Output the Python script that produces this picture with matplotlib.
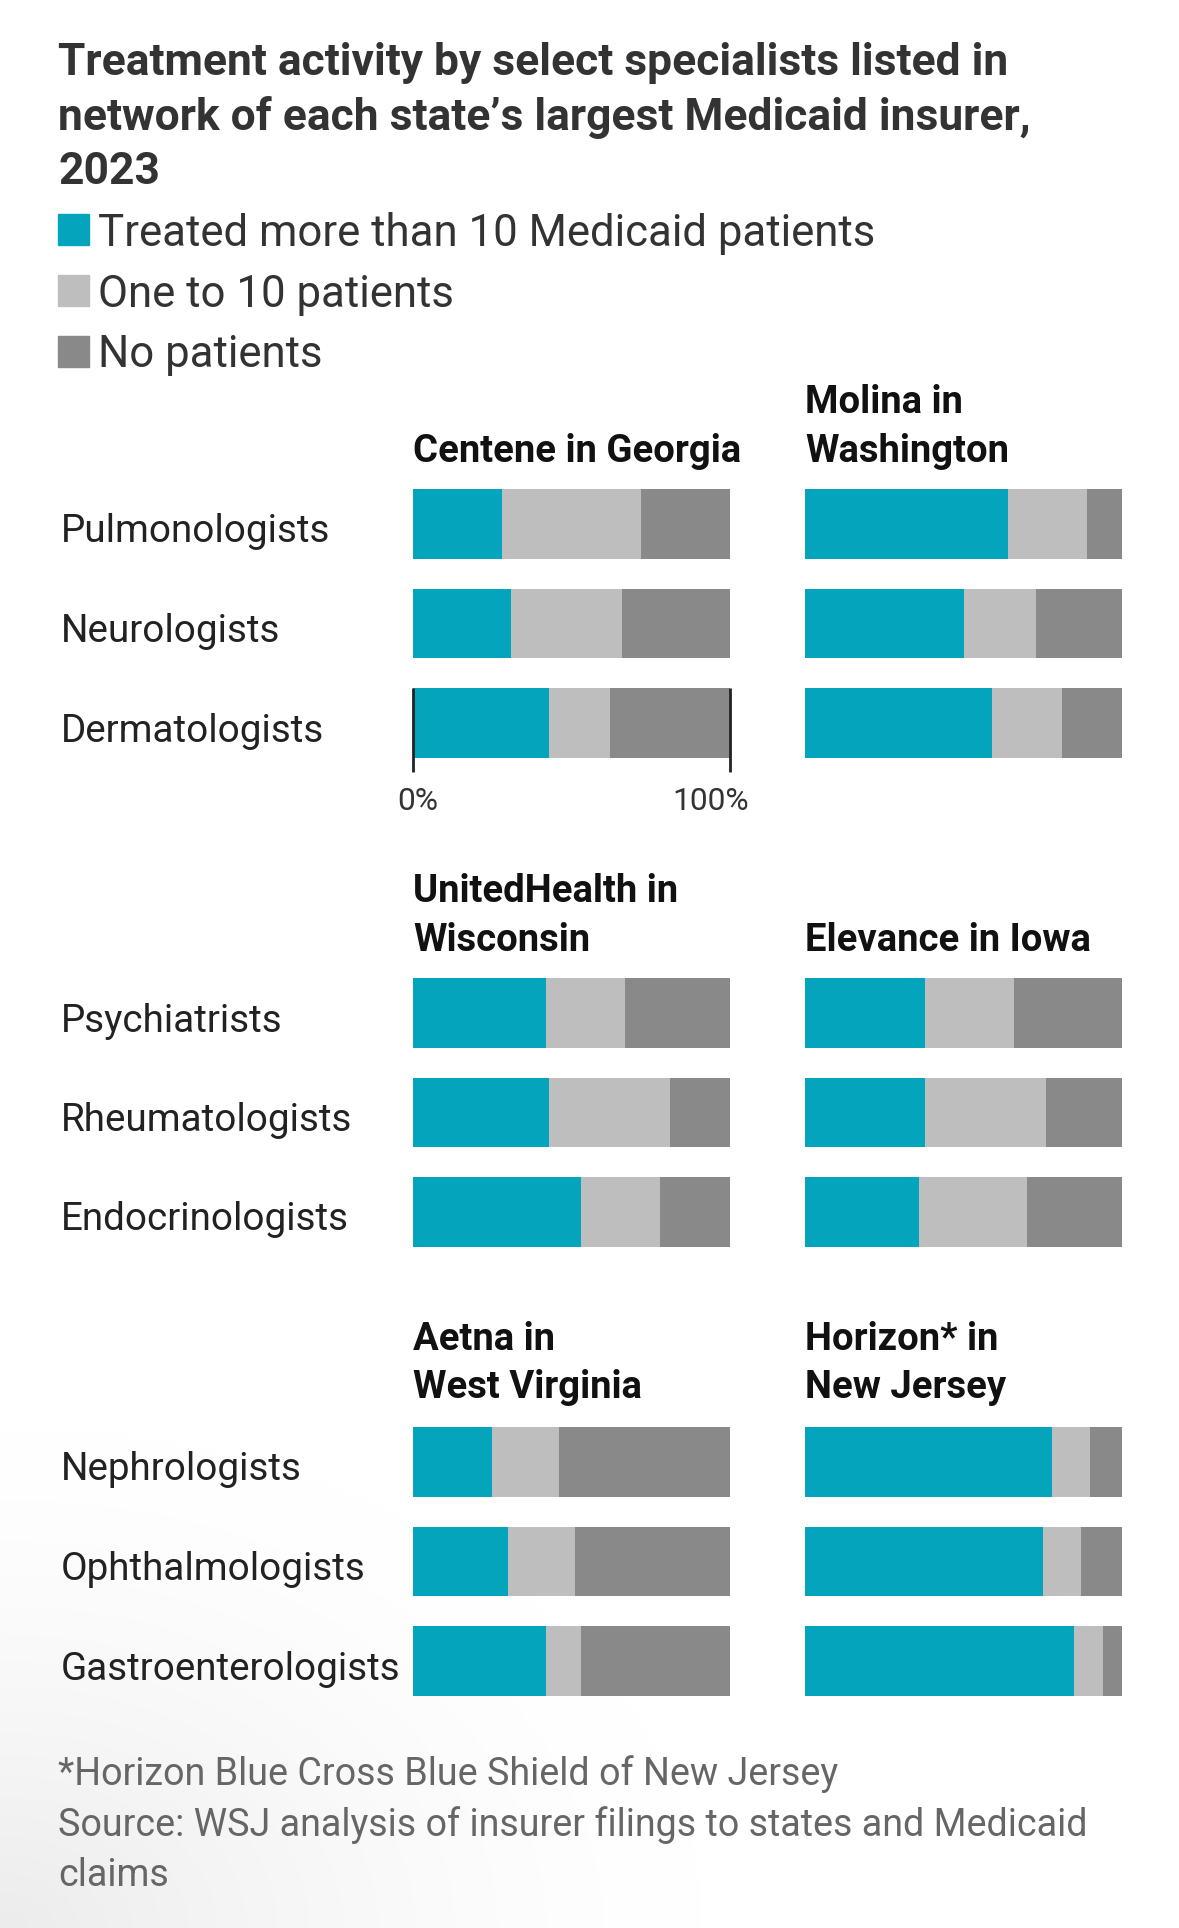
import matplotlib
matplotlib.use("Agg")
import matplotlib.pyplot as plt
import numpy as np
import logging
logging.getLogger("matplotlib.font_manager").setLevel(logging.ERROR)

# ---------------- data ----------------
title_lines = ["Treatment activity by select specialists listed in",
               "network of each state\u2019s largest Medicaid insurer,",
               "2023"]
legend_labels = ["Treated more than 10 Medicaid patients", "One to 10 patients", "No patients"]

specialists = [["Pulmonologists", "Neurologists", "Dermatologists"],
               ["Psychiatrists", "Rheumatologists", "Endocrinologists"],
               ["Nephrologists", "Ophthalmologists", "Gastroenterologists"]]

panel_titles = [[["Centene in Georgia"], ["Molina in", "Washington"]],
                [["UnitedHealth in", "Wisconsin"], ["Elevance in Iowa"]],
                [["Aetna in", "West Virginia"], ["Horizon* in", "New Jersey"]]]

# shares in percent, per panel, rows in order of specialists
centene_gt10 = [28, 31, 43]; centene_1to10 = [44, 35, 19]; centene_none = [28, 34, 38]
molina_gt10 = [64, 50, 59];  molina_1to10 = [25, 23, 22];  molina_none = [11, 27, 19]
united_gt10 = [42, 43, 53];  united_1to10 = [25, 38, 25];  united_none = [33, 19, 22]
elev_gt10 = [38, 38, 36];    elev_1to10 = [28, 38, 34];    elev_none = [34, 24, 30]
aetna_gt10 = [25, 30, 42];   aetna_1to10 = [21, 21, 11];   aetna_none = [54, 49, 47]
horizon_gt10 = [78, 75, 85]; horizon_1to10 = [12, 12, 9];  horizon_none = [10, 13, 6]

panels = [[(centene_gt10, centene_1to10, centene_none), (molina_gt10, molina_1to10, molina_none)],
          [(united_gt10, united_1to10, united_none), (elev_gt10, elev_1to10, elev_none)],
          [(aetna_gt10, aetna_1to10, aetna_none), (horizon_gt10, horizon_1to10, horizon_none)]]

axis_ticks = [0, 100]
axis_ticklabels = ["0%", "100%"]

footnotes = ["*Horizon Blue Cross Blue Shield of New Jersey",
             "Source: WSJ analysis of insurer filings to states and Medicaid",
             "claims"]

# ---------------- style ----------------
TEAL = "#04A4BD"
LIGHT = "#BEBEBE"
DARK = "#898989"
colors = [TEAL, LIGHT, DARK]
FAM = ["Roboto", "DejaVu Sans"]

W, H = 1179, 1928
fig = plt.figure(figsize=(W / 100, H / 100), dpi=100)
fig.patch.set_facecolor("white")
renderer = fig.canvas.get_renderer()

# subtle bottom-left shading like the reference screenshot
bg = fig.add_axes([0, 0, 1, 1], zorder=-10)
yy, xx = np.mgrid[0:H:4, 0:W:4]
d = np.sqrt((xx / 700.0) ** 2 + ((H - yy) / 500.0) ** 2)
shade = 1 - 0.075 * np.clip(1 - d, 0, 1) ** 1.5
bg.imshow(np.dstack([shade] * 3), extent=[0, W, H, 0], aspect="auto", interpolation="bilinear")
bg.set_xlim(0, W); bg.set_ylim(H, 0)
bg.axis("off")


def fx(x):
    return x / W


def fy(y):
    return 1 - y / H


def fit(text, weight, target):
    t = fig.text(0, 0, text, fontsize=20, fontweight=weight, family=FAM)
    w = t.get_window_extent(renderer).width
    t.remove()
    return 20 * target / w


fs_title = fit(title_lines[0], "bold", 947)
fs_leg = fit(legend_labels[0], "normal", 776)
fs_row = fit("Gastroenterologists", "normal", 339)
fs_panel = fit("Centene in Georgia", "bold", 328)
fs_foot = fit(footnotes[1], "normal", 1028)
fs_tick = fit("100%", "normal", 77)

# title
for i, line in enumerate(title_lines):
    fig.text(fx(58), fy(59 + 54 * i), line, fontsize=fs_title, fontweight="bold",
             color="#333333", family=FAM, va="center_baseline", ha="left")

# legend
for i, lab in enumerate(legend_labels):
    yc = 230 + 61 * i
    fig.patches.append(plt.Rectangle((fx(58), fy(yc + 15)), 31 / W, 31 / H,
                                     transform=fig.transFigure, color=colors[i]))
    fig.text(fx(98), fy(yc - 1), lab, fontsize=fs_leg, color="#333333", family=FAM,
             va="center_baseline", ha="left")

# panels
col_x = [413, 805]
col_w = 317
section_top = [524, 1013, 1462]
row_step = 99.5
title_bottom = [447, 936, 1383]
title_step = 48

for s in range(3):
    top = section_top[s] - row_step / 2
    for r, name in enumerate(specialists[s]):
        fig.text(fx(61), fy(section_top[s] + 4 + row_step * r), name, fontsize=fs_row,
                 color="#222222", family=FAM, va="center_baseline", ha="left")
    for c in range(2):
        ax = fig.add_axes([fx(col_x[c]), fy(top + 3 * row_step), col_w / W, 3 * row_step / H])
        gt10, one10, none = panels[s][c]
        ypos = np.arange(3)
        left = np.zeros(3)
        for vals, colr in zip((gt10, one10, none), colors):
            ax.barh(ypos, vals, left=left, height=0.7, color=colr, linewidth=0)
            left = left + np.array(vals)
        ax.set_xlim(0, 100)
        ax.set_ylim(2.5, -0.5)
        ax.axis("off")
        lines = panel_titles[s][c]
        for k, line in enumerate(lines):
            yl = title_bottom[s] - title_step * (len(lines) - 1 - k)
            fig.text(fx(col_x[c]), fy(yl), line, fontsize=fs_panel, fontweight="bold",
                     color="#111111", family=FAM, va="center_baseline", ha="left")
        if s == 0 and c == 0:
            for tv, tl, lx in zip(axis_ticks, axis_ticklabels, [1.5, 94.0]):
                ax.plot([tv, tv], [1.65, 2.49], color="#222222", lw=2, clip_on=False,
                        solid_capstyle="butt")
                ax.text(lx, 2.76, tl, fontsize=fs_tick, color="#333333", family=FAM,
                        ha="center", va="center_baseline", clip_on=False)

# footnotes
for i, line in enumerate(footnotes):
    fig.text(fx(58), fy(1770 + 51 * i), line, fontsize=fs_foot, color="#666666",
             family=FAM, va="center_baseline", ha="left")

fig.savefig("out.png", dpi=100, facecolor="white")
